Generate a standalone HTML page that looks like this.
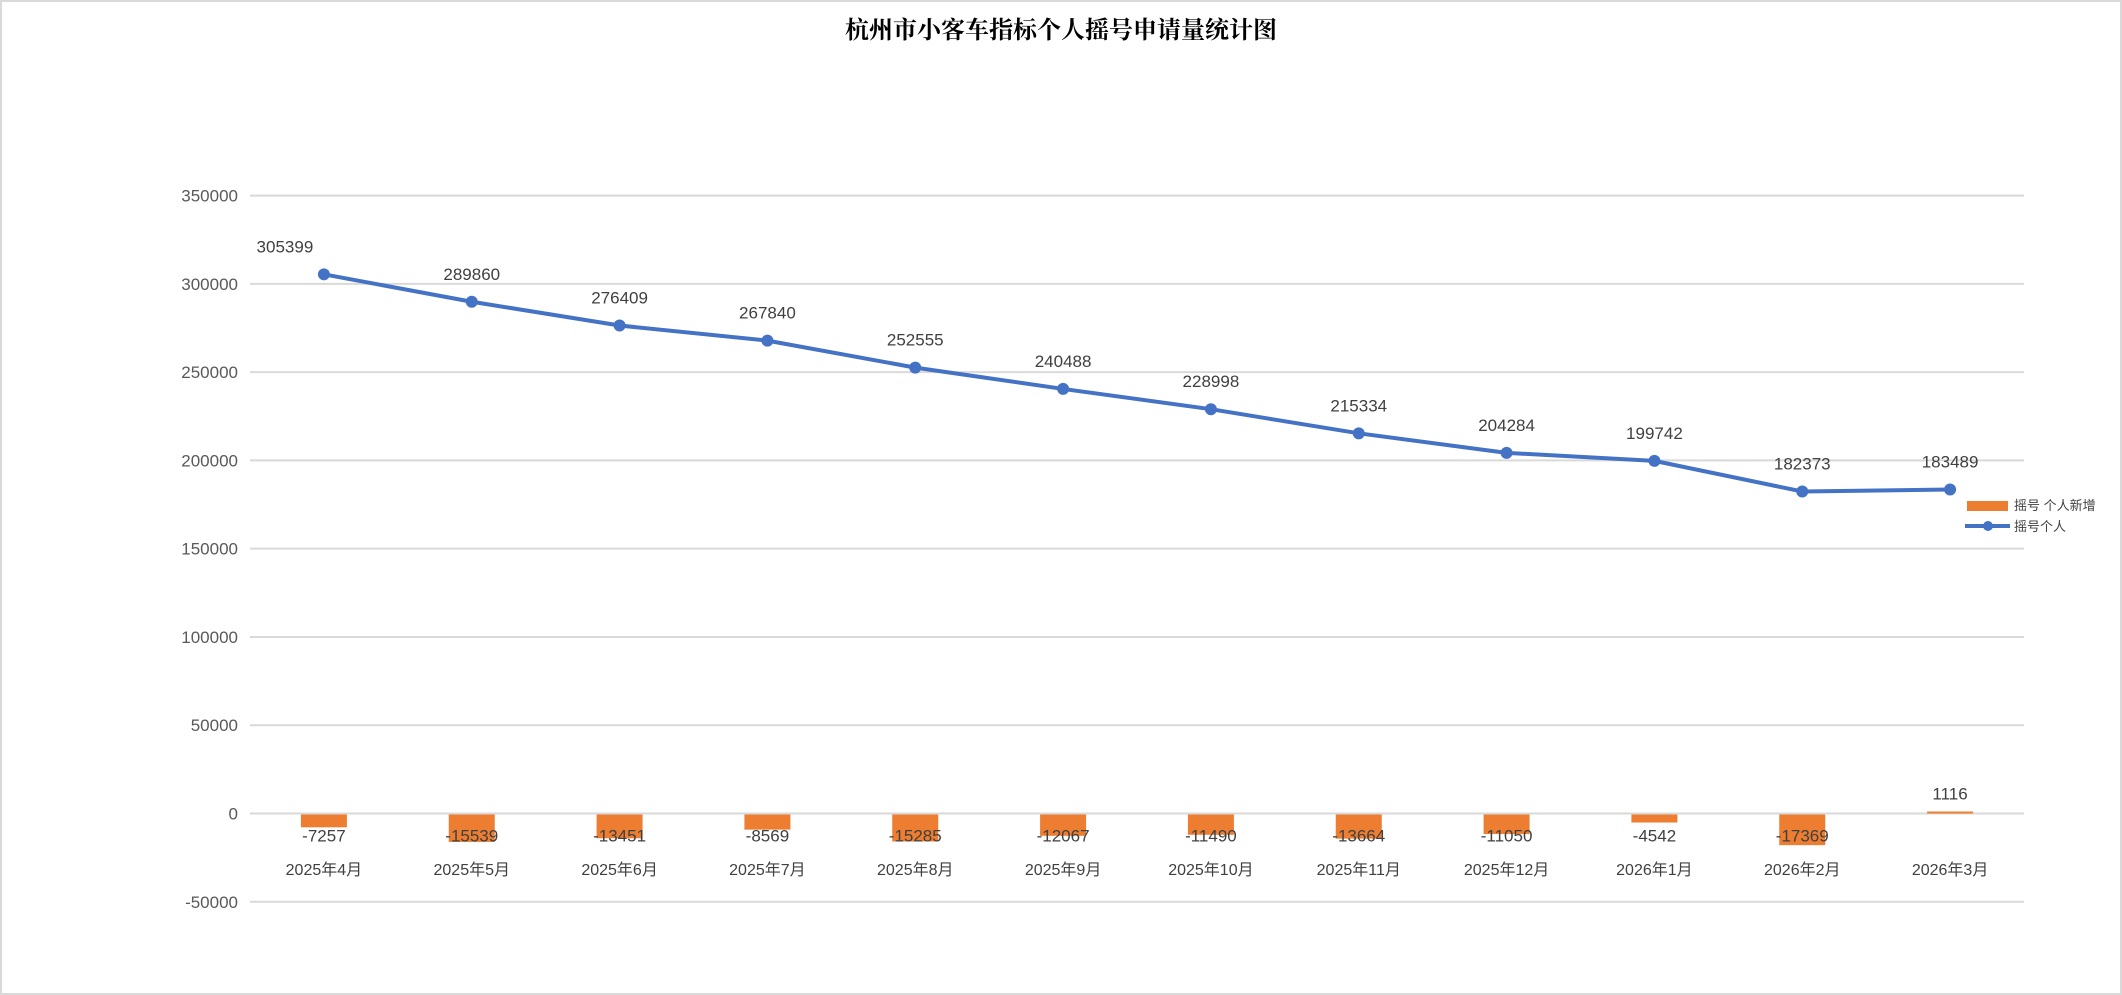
<!DOCTYPE html>
<html><head><meta charset="utf-8">
<style>
html,body{margin:0;padding:0;background:#fff;}
body{width:2122px;height:995px;overflow:hidden;}
svg{display:block;}
</style></head>
<body>
<svg id="chart" width="2122" height="995" xmlns="http://www.w3.org/2000/svg">
<rect x="1" y="1" width="2120" height="993" fill="#fff" stroke="#d9d9d9" stroke-width="2"/>
<text x="1061" y="38" text-anchor="middle" font-family="'Liberation Serif','Noto Serif CJK SC',serif" font-weight="bold" font-size="24" fill="#000">杭州市小客车指标个人摇号申请量统计图</text>
<g id="grid"></g><g id="bars"></g><g id="line"></g><g id="labels"></g>
<g>
<rect x="1967" y="501" width="41" height="10" fill="#ed7d31"/>
<text x="2014" y="510" font-family="'Liberation Sans','Noto Sans CJK SC',sans-serif" font-size="13" fill="#404040">摇号 个人新增</text>
<line x1="1965" y1="526" x2="2010" y2="526" stroke="#4472c4" stroke-width="4"/>
<circle cx="1988" cy="526" r="5" fill="#4472c4"/>
<text x="2014" y="531" font-family="'Liberation Sans','Noto Sans CJK SC',sans-serif" font-size="13" fill="#404040">摇号个人</text>
</g>
</svg>
<script>
const categories=["2025年4月","2025年5月","2025年6月","2025年7月","2025年8月","2025年9月","2025年10月","2025年11月","2025年12月","2026年1月","2026年2月","2026年3月"];
const personTotal=[305399,289860,276409,267840,252555,240488,228998,215334,204284,199742,182373,183489];
const personNew=[-7257,-15539,-13451,-8569,-15285,-12067,-11490,-13664,-11050,-4542,-17369,1116];
const yTicks=[350000,300000,250000,200000,150000,100000,50000,0,-50000];
const NS="http://www.w3.org/2000/svg";
const L=250,R=2024,Y0=813.5,PX=(901.7-195.5)/400000;
const band=(R-L)/categories.length;
const F="'Liberation Sans','Noto Sans CJK SC',sans-serif";
function y(v){return Y0-v*PX;}
function x(i){return L+band*(i+0.5);}
function mk(tag,attrs,parent){const e=document.createElementNS(NS,tag);for(const k in attrs)e.setAttribute(k,attrs[k]);document.getElementById(parent).appendChild(e);return e;}
yTicks.forEach(t=>{
 const g=mk('line',{x1:L,x2:R,y1:y(t),y2:y(t),stroke:'#d9d9d9','stroke-width':2},'grid');
 
 
 const tx=mk('text',{x:238,y:y(t)+6,'text-anchor':'end','font-family':F,'font-size':17,fill:'#595959'},'grid');
 tx.textContent=t;
 
 
});
categories.forEach((c,i)=>{
 const v=personNew[i];
 const top=v>=0?y(v):Y0+1,h=Math.abs(v)*PX;
 const b=mk('rect',{x:x(i)-23,y:top,width:46,height:Math.max(h,1),fill:'#ed7d31'},'bars');
 
 
 const bl=mk('text',{x:x(i),y:v>=0?y(v)-12:Y0+28,'text-anchor':'middle','font-family':F,'font-size':17,fill:'#404040'},'labels');
 bl.textContent=v;
 
 
 const cl=mk('text',{x:x(i),y:875,'text-anchor':'middle','font-family':F,'font-size':16,fill:'#404040'},'labels');
 cl.textContent=c;
 
 
});
const pts=personTotal.map((v,i)=>x(i)+','+y(v)).join(' ');
const pl=mk('polyline',{points:pts,fill:'none',stroke:'#4472c4','stroke-width':4,'stroke-linejoin':'round'},'line');


personTotal.forEach((v,i)=>{
 const c=mk('circle',{cx:x(i),cy:y(v),r:6,fill:'#4472c4'},'line');
 
 
 const lx=i===0?x(i)-39:x(i);
 const t=mk('text',{x:lx,y:y(v)-22,'text-anchor':'middle','font-family':F,'font-size':17,fill:'#404040'},'labels');
 t.textContent=v;
 
 
});
</script>
</body></html>
